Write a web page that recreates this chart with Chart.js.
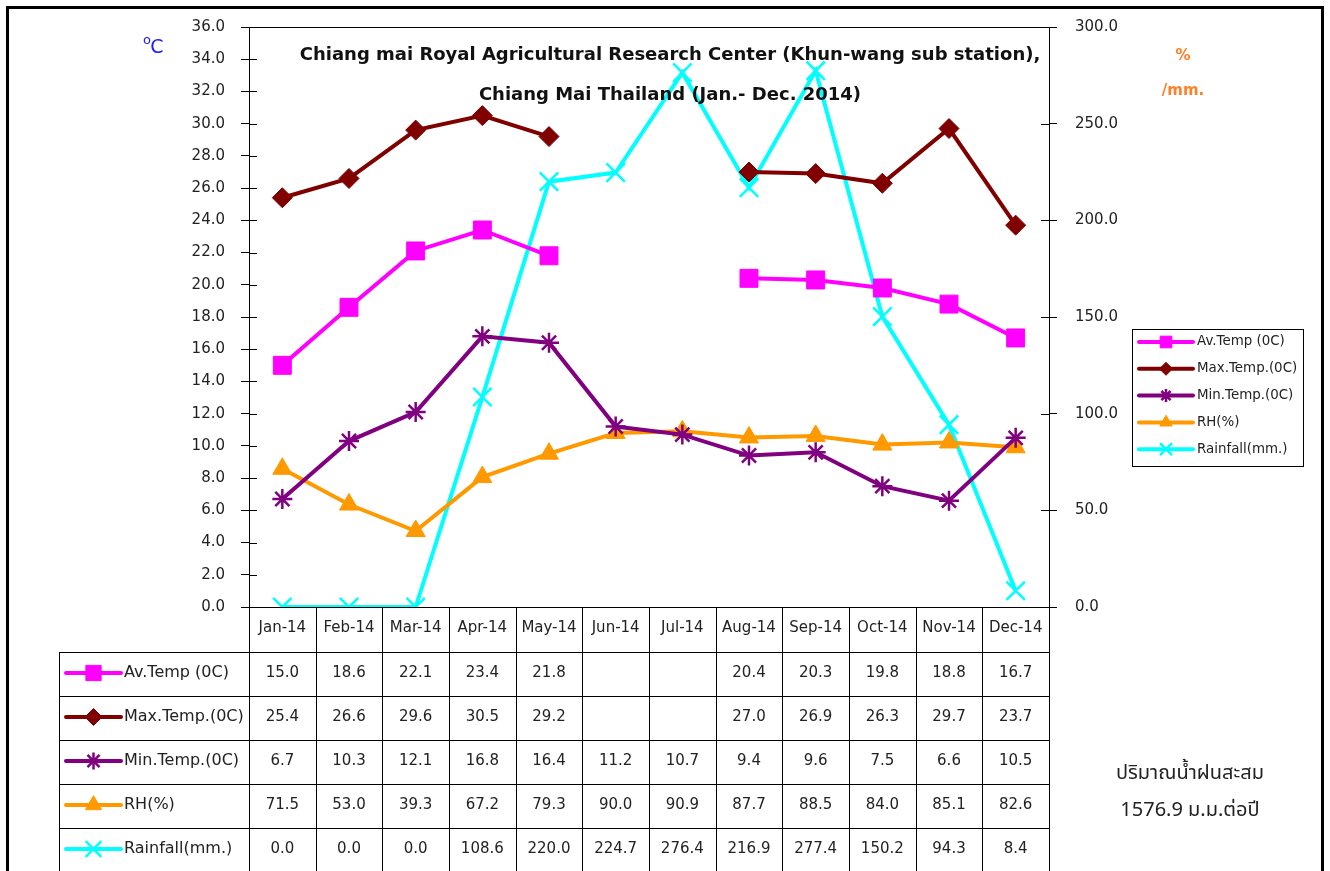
<!DOCTYPE html>
<html>
<head>
<meta charset="utf-8">
<script src="https://cdn.jsdelivr.net/npm/chart.js@4/dist/chart.umd.min.js"></script>
<style>
  body { margin: 0; background: #fff; }
  #chart { display: block; }
</style>
</head>
<body>
<canvas id="chart" width="1330" height="871"></canvas>
<script>
const FONT = '"DejaVu Sans", "Noto Sans", sans-serif';
const THAI_FONT = '"Noto Sans Thai", "Noto Sans", "DejaVu Sans", sans-serif';
Chart.defaults.font.family = FONT;
Chart.defaults.font.size = 15;
Chart.defaults.color = '#222';

// data
const months = ['Jan-14', 'Feb-14', 'Mar-14', 'Apr-14', 'May-14', 'Jun-14',
                'Jul-14', 'Aug-14', 'Sep-14', 'Oct-14', 'Nov-14', 'Dec-14'];
const avTemp = [15.0, 18.6, 22.1, 23.4, 21.8, null, null, 20.4, 20.3, 19.8, 18.8, 16.7];
const maxTemp = [25.4, 26.6, 29.6, 30.5, 29.2, null, null, 27.0, 26.9, 26.3, 29.7, 23.7];
const minTemp = [6.7, 10.3, 12.1, 16.8, 16.4, 11.2, 10.7, 9.4, 9.6, 7.5, 6.6, 10.5];
const rh = [71.5, 53.0, 39.3, 67.2, 79.3, 90.0, 90.9, 87.7, 88.5, 84.0, 85.1, 82.6];
const rainfall = [0.0, 0.0, 0.0, 108.6, 220.0, 224.7, 276.4, 216.9, 277.4, 150.2, 94.3, 8.4];

const titleLines = ['Chiang mai Royal Agricultural Research Center (Khun-wang sub station),',
                    'Chiang Mai Thailand (Jan.- Dec. 2014)'];
const rainNote = ['ปริมาณน้ำฝนสะสม', '1576.9 ม.ม.ต่อปี'];

const ROW_H = 44;

// frame, title, box, legend, data table
const extras = {
    id: 'extras',
    afterDraw(chart) {
        const ctx = chart.ctx;
        const area = chart.chartArea;
        const x = chart.scales.x;
        const yL = chart.scales.y;
        const yR = chart.scales.y1;
        const H = chart.height;
        ctx.save();

        // plot box
        ctx.strokeStyle = '#000';
        ctx.lineWidth = 1;
        ctx.strokeRect(area.left + 0.5, area.top + 0.5, area.right - area.left, area.bottom - area.top);

        // inner half of the crossing ticks
        ctx.beginPath();
        yL.ticks.forEach(t => {
            const py = Math.round(yL.getPixelForValue(t.value)) + 0.5;
            ctx.moveTo(area.left, py); ctx.lineTo(area.left + 8, py);
        });
        yR.ticks.forEach(t => {
            const py = Math.round(yR.getPixelForValue(t.value)) + 0.5;
            ctx.moveTo(area.right - 8, py); ctx.lineTo(area.right, py);
        });
        ctx.stroke();

        // title
        ctx.fillStyle = '#111';
        ctx.font = 'bold 18px ' + FONT;
        ctx.textAlign = 'center';
        ctx.textBaseline = 'middle';
        ctx.fillText(titleLines[0], 670, 55);
        ctx.fillText(titleLines[1], 670, 95);

        // axis units
        ctx.fillStyle = '#1a1aff';
        ctx.font = '13px ' + FONT;
        ctx.fillText('o', 147, 41);
        ctx.font = '19px ' + FONT;
        ctx.fillText('C', 157, 48);
        ctx.fillStyle = '#ff7f27';
        ctx.font = 'bold 15px ' + FONT;
        ctx.fillText('%', 1183, 56);
        ctx.fillText('/mm.', 1183, 91);

        // table
        const tLeft = 59;
        const hdrBottom = area.bottom + 45;
        const nRows = chart.data.datasets.length;
        const edges = [];
        for (let i = 0; i <= months.length; i++) {
            edges.push(x.getPixelForValue(i - 0.5));
        }
        ctx.strokeStyle = '#000';
        ctx.lineWidth = 1;
        ctx.beginPath();
        edges.forEach(ex => {
            const px = Math.round(ex) + 0.5;
            ctx.moveTo(px, area.bottom); ctx.lineTo(px, H);
        });
        ctx.moveTo(tLeft + 0.5, hdrBottom); ctx.lineTo(tLeft + 0.5, H);
        for (let r = 0; r < nRows; r++) {
            const py = Math.round(hdrBottom + r * ROW_H) + 0.5;
            ctx.moveTo(tLeft, py); ctx.lineTo(area.right, py);
        }
        ctx.stroke();

        chart.data.datasets.forEach((ds, r) => {
            const cy = hdrBottom + r * ROW_H + ROW_H / 2 - 1;
            drawSample(ctx, ds, 66, 121, cy, 0.85);
            ctx.fillStyle = '#222';
            ctx.textAlign = 'left';
            ctx.font = '16px ' + FONT;
            ctx.fillText(ds.label, 124, cy);
            ctx.textAlign = 'center';
            ctx.font = '15px ' + FONT;
            ds.data.forEach((v, i) => {
                if (v === null) return;
                ctx.fillText(v.toFixed(1), x.getPixelForValue(i), cy);
            });
        });

        // legend box
        ctx.strokeStyle = '#000';
        ctx.lineWidth = 1;
        ctx.strokeRect(1132.5, 329.5, 171, 137);
        ctx.font = '13.4px ' + FONT;
        chart.data.datasets.forEach((ds, r) => {
            const cy = 342 + r * 26.8;
            drawSample(ctx, ds, 1139, 1193, cy, 0.65);
            ctx.fillStyle = '#222';
            ctx.textAlign = 'left';
            ctx.fillText(ds.label, 1197, cy);
        });

        // rainfall note
        ctx.font = '20px ' + THAI_FONT;
        ctx.textAlign = 'center';
        ctx.fillStyle = '#222';
        ctx.fillText(rainNote[0], 1190, 775);
        ctx.fillText(rainNote[1], 1190, 812);

        // outer frame
        ctx.lineWidth = 3;
        ctx.strokeRect(7.5, 7.5, 1315, H + 20);
        ctx.restore();
    }
};

function drawSample(ctx, ds, x0, x1, cy, scale) {
    ctx.save();
    ctx.strokeStyle = ds.borderColor;
    ctx.lineWidth = ds.borderWidth;
    ctx.lineCap = 'round';
    ctx.beginPath();
    ctx.moveTo(x0, cy); ctx.lineTo(x1, cy);
    ctx.stroke();
    ctx.fillStyle = ds.pointBackgroundColor;
    ctx.strokeStyle = ds.pointBorderColor;
    ctx.lineWidth = ds.pointBorderWidth;
    ctx.lineCap = 'butt';
    Chart.helpers.drawPoint(ctx, {
        pointStyle: ds.pointStyle,
        radius: ds.pointRadius * scale,
        borderWidth: ds.pointBorderWidth,
        rotation: 0
    }, (x0 + x1) / 2, cy);
    ctx.restore();
}

function series(label, data, color, style, radius, axis, borderW) {
    return {
        label, data,
        yAxisID: axis,
        borderColor: color,
        backgroundColor: color,
        pointBackgroundColor: color,
        pointBorderColor: color,
        pointStyle: style,
        pointRadius: radius,
        pointBorderWidth: borderW,
        borderWidth: 4,
        tension: 0,
        spanGaps: false
    };
}

new Chart(document.getElementById('chart'), {
    type: 'line',
    data: {
        labels: months,
        datasets: [
            series('Av.Temp (0C)', avTemp, '#ff00ff', 'rect', 12.7, 'y', 1),
            series('Max.Temp.(0C)', maxTemp, '#800000', 'rectRot', 10, 'y', 1),
            series('Min.Temp.(0C)', minTemp, '#800080', 'star', 10, 'y', 2.5),
            series('RH(%)', rh, '#ff9900', 'triangle', 11, 'y1', 1),
            series('Rainfall(mm.)', rainfall, '#00ffff', 'crossRot', 13, 'y1', 2.5)
        ]
    },
    options: {
        responsive: false,
        animation: false,
        layout: { padding: { left: 0, right: 0, top: 22, bottom: 0 } },
        plugins: {
            legend: { display: false },
            tooltip: { enabled: false }
        },
        scales: {
            x: {
                offset: true,
                grid: { display: false },
                border: { display: false },
                ticks: { padding: 4, color: '#222', maxRotation: 0 },
                afterFit: s => { s.height = 264; }
            },
            y: {
                position: 'left',
                min: 0, max: 36,
                ticks: { stepSize: 2, padding: 16, color: '#222', callback: v => v.toFixed(1) },
                grid: { drawOnChartArea: false, tickLength: 8, color: '#000' },
                border: { color: '#000' },
                afterFit: s => { s.width = 249; }
            },
            y1: {
                position: 'right',
                min: 0, max: 300,
                ticks: { stepSize: 50, padding: 18, color: '#222', callback: v => v.toFixed(1) },
                grid: { drawOnChartArea: false, tickLength: 8, color: '#000' },
                border: { color: '#000' },
                afterFit: s => { s.width = 281; }
            }
        }
    },
    plugins: [extras]
});
</script>
</body>
</html>
